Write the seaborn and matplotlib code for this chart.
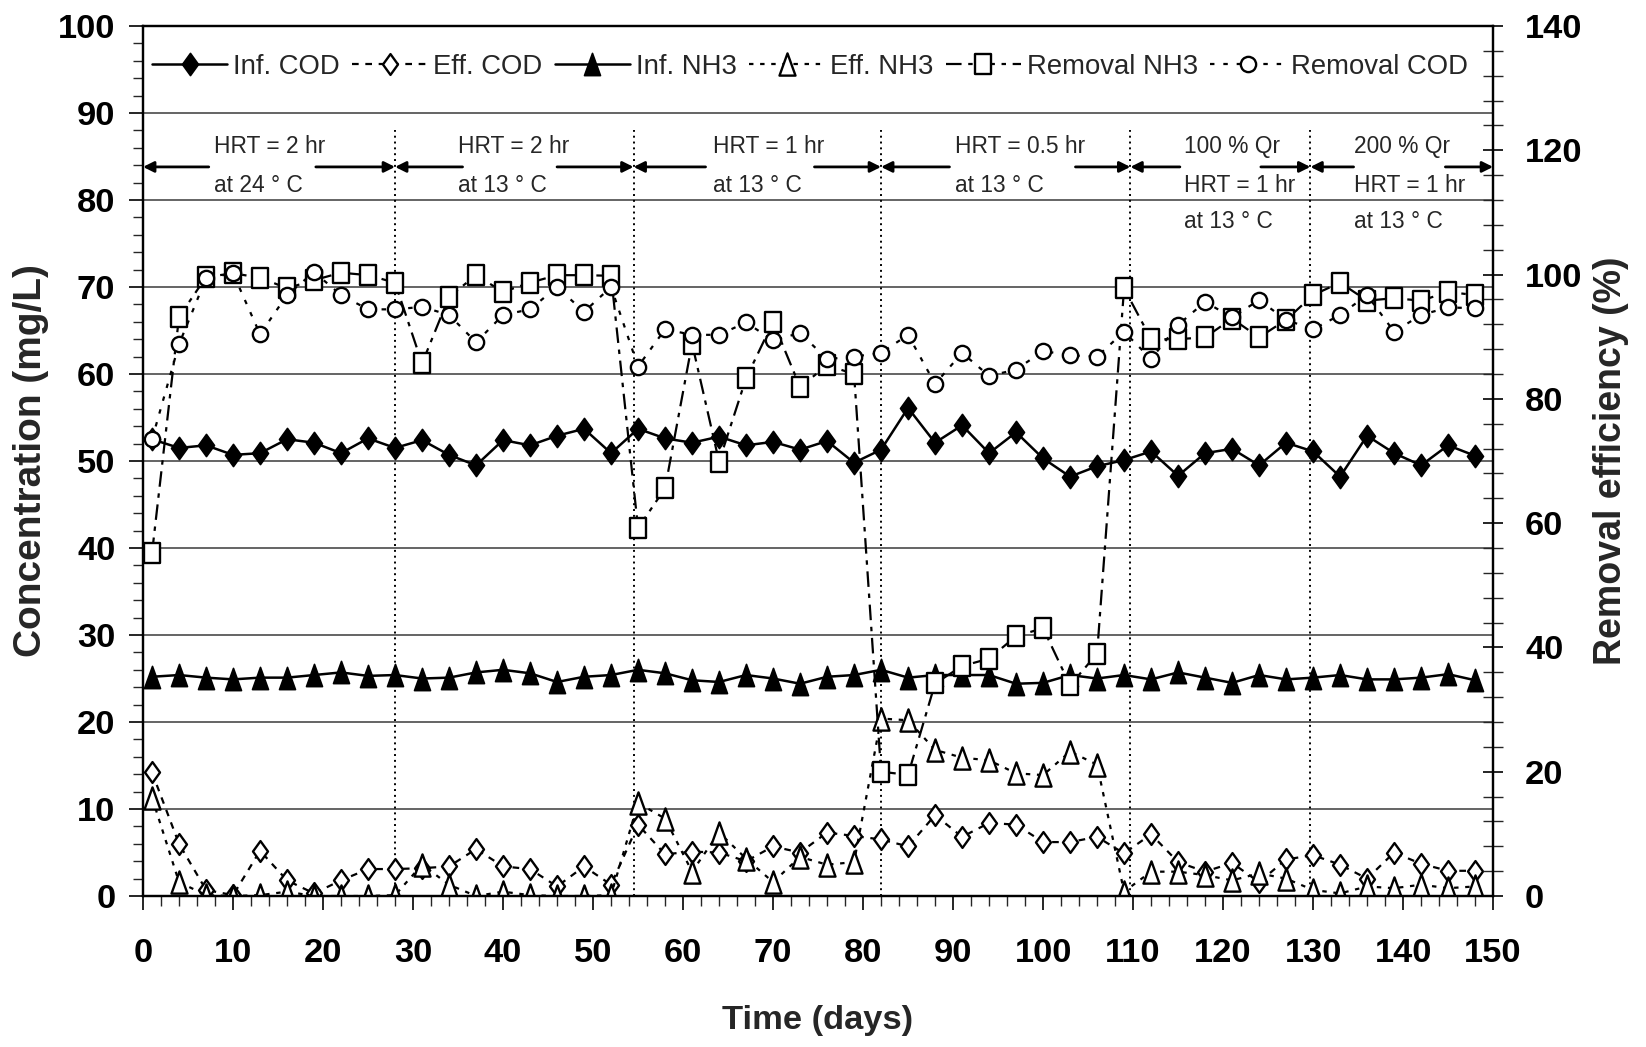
import matplotlib
matplotlib.use("Agg")
import matplotlib.pyplot as plt
from matplotlib import font_manager
from matplotlib.path import Path
from matplotlib.ticker import MultipleLocator
import seaborn as sns
import pandas as pd

# ---- data -------------------------------------------------------------
days = [1, 4, 7, 10, 13, 16, 19, 22, 25, 28, 31, 34, 37, 40, 43, 46, 49, 52,
        55, 58, 61, 64, 67, 70, 73, 76, 79, 82, 85, 88, 91, 94, 97, 100, 103, 106,
        109, 112, 115, 118, 121, 124, 127, 130, 133, 136, 139, 142, 145, 148]

inf_cod = [52.5, 51.5, 51.8, 50.7, 50.9, 52.5, 52.1, 50.9, 52.6, 51.5, 52.4, 50.7,
           49.5, 52.4, 51.8, 52.9, 53.7, 50.9, 53.7, 52.6, 52.1, 52.8, 51.8, 52.2,
           51.3, 52.3, 49.8, 51.3, 56.1, 52.1, 54.1, 50.9, 53.3, 50.3, 48.2, 49.4,
           50.1, 51.1, 48.3, 50.9, 51.4, 49.5, 52.1, 51.1, 48.2, 52.9, 50.9, 49.5,
           51.8, 50.6]
eff_cod = [14.2, 6.0, 0.7, 0.1, 5.2, 1.8, 0.3, 1.8, 3.1, 3.1, 3.2, 3.4, 5.4, 3.4,
           3.1, 1.1, 3.4, 1.3, 8.2, 4.8, 5.1, 5.0, 4.0, 5.7, 5.0, 7.3, 6.9, 6.5,
           5.7, 9.3, 6.8, 8.4, 8.2, 6.2, 6.2, 6.8, 4.9, 7.1, 3.9, 2.8, 3.8, 1.6,
           4.2, 4.7, 3.6, 2.0, 5.0, 3.7, 2.9, 2.9]
inf_nh3 = [25.2, 25.4, 25.1, 24.9, 25.1, 25.1, 25.4, 25.7, 25.3, 25.4, 25.0, 25.1,
           25.7, 26.0, 25.6, 24.6, 25.2, 25.4, 26.0, 25.6, 24.8, 24.6, 25.4, 25.0,
           24.4, 25.2, 25.4, 26.0, 25.1, 25.4, 25.4, 25.4, 24.4, 24.5, 25.4, 25.0,
           25.4, 24.9, 25.7, 25.1, 24.5, 25.4, 24.9, 25.1, 25.4, 24.9, 24.9, 25.1,
           25.5, 24.8]
eff_nh3 = [11.3, 1.6, 0.1, 0.0, 0.1, 0.5, 0.0, 0.0, 0.0, 0.1, 3.6, 1.3, 0.0, 0.5,
           0.1, 0.0, 0.0, 0.1, 10.7, 8.9, 2.8, 7.3, 4.3, 1.6, 4.5, 3.6, 3.9, 20.4,
           20.2, 16.8, 15.9, 15.6, 14.1, 13.9, 16.6, 15.1, 0.5, 2.8, 2.8, 2.4, 1.8,
           2.6, 2.0, 0.7, 0.3, 1.1, 0.9, 1.3, 0.9, 1.1]
removal_nh3 = [55.2, 93.2, 99.6, 100.2, 99.5, 97.8, 99.1, 100.3, 99.9, 98.7, 85.7,
               96.4, 99.9, 97.2, 98.7, 99.9, 99.9, 99.8, 59.2, 65.6, 88.9, 69.9,
               83.3, 92.4, 81.9, 85.4, 84.0, 20.0, 19.5, 34.2, 37.0, 38.2, 41.8,
               43.1, 33.9, 39.0, 97.8, 89.6, 89.6, 89.9, 92.9, 89.9, 92.7, 96.7,
               98.7, 95.8, 96.2, 95.8, 97.2, 96.7]
removal_cod = [73.5, 88.8, 99.4, 100.2, 90.4, 96.7, 100.4, 96.7, 94.4, 94.4, 94.8,
               93.5, 89.1, 93.5, 94.4, 98.0, 94.0, 98.0, 85.2, 91.2, 90.3, 90.3,
               92.3, 89.4, 90.6, 86.4, 86.8, 87.4, 90.3, 82.4, 87.4, 83.7, 84.7,
               87.7, 87.0, 86.8, 90.8, 86.4, 91.9, 95.6, 93.1, 95.9, 92.7, 91.2,
               93.5, 96.7, 90.8, 93.5, 94.7, 94.6]

# operating periods: boundaries (days) and their captions
phase_bounds = [0, 28, 54.5, 82, 109.7, 129.7, 150]
phase_lines = [
    ["HRT = 2 hr", "at 24 \u00b0 C"],
    ["HRT = 2 hr", "at 13 \u00b0 C"],
    ["HRT = 1 hr", "at 13 \u00b0 C"],
    ["HRT = 0.5 hr", "at 13 \u00b0 C"],
    ["100 % Qr", "HRT = 1 hr", "at 13 \u00b0 C"],
    ["200 % Qr", "HRT = 1 hr", "at 13 \u00b0 C"],
]
# caption start and arrow gap (days) inside each period
caption_x = [7.9, 35.0, 63.3, 90.2, 115.7, 134.5]
arrow_gap = [(7.3, 19.2), (35.5, 46.0), (62.5, 74.6), (89.6, 103.6),
             (115.2, 124.2), (134.5, 144.7)]

df = pd.DataFrame({"day": days, "inf_cod": inf_cod, "eff_cod": eff_cod,
                   "inf_nh3": inf_nh3, "eff_nh3": eff_nh3,
                   "removal_nh3": removal_nh3, "removal_cod": removal_cod})

# ---- fonts ------------------------------------------------------------
sns.set_theme(style="ticks")
installed = {f.name for f in font_manager.fontManager.ttflist}
if "Liberation Sans Narrow" in installed:
    NARROW, NSCALE = "Liberation Sans Narrow", 1.0
else:
    NARROW, NSCALE = "Liberation Sans", 0.92
WIDE = "Liberation Sans"
plt.rcParams["font.family"] = [NARROW, "DejaVu Sans"]
plt.rcParams["axes.edgecolor"] = "black"


def closed(verts):
    return Path(verts + [verts[0]], closed=True)


diamond = closed([(0, 1), (0.72, 0), (0, -1), (-0.72, 0)])
square = closed([(-0.75, -1), (0.75, -1), (0.75, 1), (-0.75, 1)])
triangle = closed([(0, 1), (0.72, -1), (-0.72, -1)])

fig = plt.figure(figsize=(16.46, 10.47), dpi=100)
fig.patch.set_facecolor("white")
ax = fig.add_axes([0.0869, 0.1442, 0.8202, 0.8310])
ax2 = ax.twinx()

common = dict(color="black", markeredgecolor="black", legend=False)

sns.lineplot(data=df, x="day", y="inf_cod", ax=ax, marker=diamond, markersize=16,
             markerfacecolor="black", markeredgewidth=1.2, linewidth=1.8,
             linestyle="-", label="Inf. COD", **common)
sns.lineplot(data=df, x="day", y="eff_cod", ax=ax, marker=diamond, markersize=15,
             markerfacecolor="white", markeredgewidth=1.7, linewidth=1.6,
             linestyle=(0, (3, 3)), label="Eff. COD", **common)
sns.lineplot(data=df, x="day", y="inf_nh3", ax=ax, marker=triangle, markersize=16,
             markerfacecolor="black", markeredgewidth=1.2, linewidth=1.8,
             linestyle="-", label="Inf. NH3", **common)
sns.lineplot(data=df, x="day", y="eff_nh3", ax=ax, marker=triangle, markersize=16,
             markerfacecolor="white", markeredgewidth=1.7, linewidth=1.6,
             linestyle=(0, (2, 3)), label="Eff. NH3", **common)
sns.lineplot(data=df, x="day", y="removal_nh3", ax=ax2, marker=square, markersize=15,
             markerfacecolor="white", markeredgewidth=1.7, linewidth=1.6,
             linestyle=(0, (7, 3, 2, 3)), label="Removal NH3", **common)
sns.lineplot(data=df, x="day", y="removal_cod", ax=ax2, marker="o", markersize=11,
             markerfacecolor="white", markeredgewidth=1.7, linewidth=1.6,
             linestyle=(0, (2, 4)), label="Removal COD", **common)

# ---- axes -------------------------------------------------------------
ax.set_xlim(0, 150)
ax.set_ylim(0, 100)
ax2.set_ylim(0, 140)
ax.xaxis.set_major_locator(MultipleLocator(10))
ax.xaxis.set_minor_locator(MultipleLocator(2))
ax.yaxis.set_major_locator(MultipleLocator(10))
ax.yaxis.set_minor_locator(MultipleLocator(2))
ax2.yaxis.set_major_locator(MultipleLocator(20))
ax2.yaxis.set_minor_locator(MultipleLocator(4))

ax.grid(False)
ax2.grid(False)
for v in range(10, 100, 10):
    ax.axhline(v, color="#3a3a3a", linewidth=1.1, zorder=0.5)

for s in ["left", "right", "top", "bottom"]:
    ax.spines[s].set_linewidth(1.6)
    ax2.spines[s].set_linewidth(1.6)

tick_font = dict(family=[NARROW, "DejaVu Sans"], weight="bold", size=27 * NSCALE)
ax.tick_params(axis="x", which="major", direction="out", length=10, width=1.2,
               pad=20, colors="black")
ax.tick_params(axis="x", which="minor", direction="out", length=7, width=1.0)
ax.tick_params(axis="y", which="major", direction="out", length=10, width=1.2,
               pad=10, colors="black")
ax.tick_params(axis="y", which="minor", direction="out", length=7, width=1.0)
ax2.tick_params(axis="y", which="major", direction="inout", length=14, width=1.2,
                pad=16, colors="black")
ax2.tick_params(axis="y", which="minor", direction="inout", length=14, width=1.0)
for lbl in ax.get_xticklabels() + ax.get_yticklabels() + ax2.get_yticklabels():
    lbl.set_fontproperties(font_manager.FontProperties(**tick_font))

ax.set_xlabel("Time (days)", fontsize=27 * NSCALE, fontweight="bold",
              family=[NARROW, "DejaVu Sans"], labelpad=26)
ax.set_ylabel("Concentration (mg/L)", fontsize=28, fontweight="bold",
              family=[WIDE, "DejaVu Sans"])
ax2.set_ylabel("Removal efficiency (%)", fontsize=27, fontweight="bold",
               family=[WIDE, "DejaVu Sans"], rotation=90)
ax.yaxis.label.set_va("center")
ax2.yaxis.label.set_va("center")
ax.yaxis.set_label_coords(-0.083, 0.5)
ax2.yaxis.set_label_coords(1.087, 0.5)

# ---- operating periods ---------------------------------------------------
for b in phase_bounds[1:-1]:
    ax.plot([b, b], [0, 88], color="black", linestyle=(0, (1, 2)),
            linewidth=1.4, zorder=1)

arrow_y = 83.8
text_y = [86.1, 81.7, 77.5]
for i, lines in enumerate(phase_lines):
    x0, x1 = phase_bounds[i], phase_bounds[i + 1]
    g0, g1 = arrow_gap[i]
    for start, end in [(g0, x0), (g1, x1)]:
        ax.annotate("", xy=(end, arrow_y), xytext=(start, arrow_y),
                    arrowprops=dict(arrowstyle="-|>", color="black", lw=2.0,
                                    mutation_scale=16, shrinkA=0, shrinkB=0))
    for j, t in enumerate(lines):
        ax.text(caption_x[i], text_y[j], t, ha="left", va="center",
                fontsize=17.8 * NSCALE, family=[NARROW, "DejaVu Sans"])

# ---- legend -------------------------------------------------------------
h1, l1 = ax.get_legend_handles_labels()
h2, l2 = ax2.get_legend_handles_labels()
leg = ax2.legend(h1 + h2, l1 + l2, loc="center", ncol=6,
                 bbox_to_anchor=(0.494, 0.953), bbox_transform=ax.transAxes,
                 frameon=False, prop=dict(family=[NARROW, "DejaVu Sans"],
                                          size=21.5 * NSCALE),
                 handlelength=2.75, handletextpad=0.2, columnspacing=0.45,
                 borderaxespad=0)

fig.savefig("out.png", dpi=100, facecolor="white")
